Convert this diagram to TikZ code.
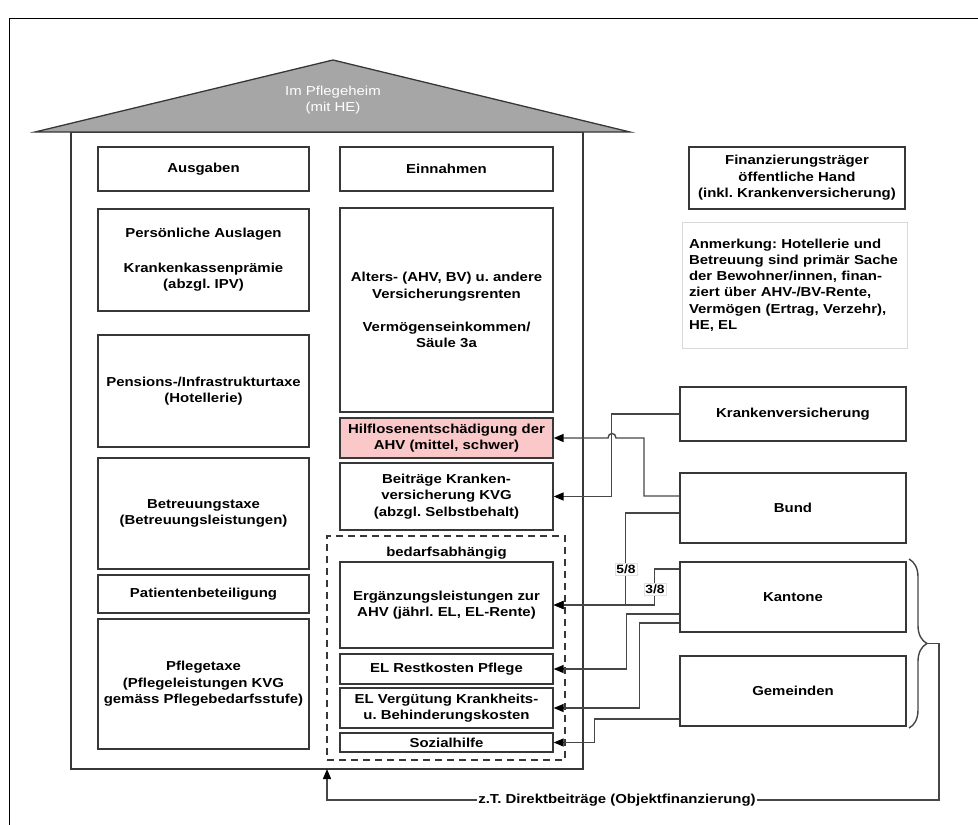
\documentclass[tikz,border=0pt]{standalone}
\usepackage{fontspec}
\setmainfont{Liberation Sans}[FakeStretch=1.15]
\frenchspacing
\usetikzlibrary{arrows.meta, positioning, calc, decorations.pathreplacing}
\definecolor{rahmengrau}{RGB}{55,55,55}
\definecolor{liniengrau}{RGB}{70,70,70}
\definecolor{dachgrau}{RGB}{166,166,166}
\definecolor{hilfrosa}{RGB}{250,200,200}

\begin{document}
\begin{tikzpicture}[x=1pt, y=-1pt,
  box/.style={draw=rahmengrau, fill=white, line width=1.3pt, align=center,
              font=\fontsize{13}{16.5}\selectfont\bfseries, inner sep=2pt},
  links/.style={box, minimum width=211pt},
  mitte/.style={box, minimum width=213pt},
  rechts/.style={box, minimum width=226pt},
  note/.style={draw=black!15, line width=0.8pt, align=left, text width=211pt,
               minimum width=225pt, minimum height=126pt, inner sep=7pt,
               font=\fontsize{13}{16.2}\selectfont\bfseries},
  frac/.style={fill=white, draw=black!12, inner sep=1.5pt,
               font=\fontsize{12}{14}\selectfont\bfseries},
  arr/.style={-{Triangle[length=10pt,width=8pt,color=black]}, line width=1.4pt, liniengrau},
  lin/.style={line width=1.4pt, liniengrau}
]
  \useasboundingbox (0,0) rectangle (978,825);

  % frame of the screenshot
  \draw[line width=1pt] (9,825) -- (9,18) -- (978,18);

  % house
  \draw[line width=1.3pt, rahmengrau] (71,132) rectangle (583,769);
  \draw[line width=1.3pt, rahmengrau, fill=dachgrau] (35,132) -- (333,60) -- (630,132) -- cycle;
  \node[text=white, align=center, font=\fontsize{13}{16.5}\selectfont] (dach) at (333,100)
    {Im Pflegeheim\\(mit HE)};
  \coordinate (hausfuss) at (327,769);

  % Ausgaben
  \node[links, minimum height=44pt] (aus) at (203.5,169) {Ausgaben};
  \node[links, minimum height=102pt] (pers) at (203.5,260)
    {Persönliche Auslagen\\[18pt]Krankenkassenprämie\\(abzgl. IPV)};
  \node[links, minimum height=112pt] (pens) at (203.5,391)
    {Pensions-/Infrastrukturtaxe\\(Hotellerie)};
  \node[links, minimum height=111pt] (betr) at (203.5,513.5)
    {Betreuungstaxe\\(Betreuungsleistungen)};
  \node[links, minimum height=38pt] (pat) at (203.5,594) {Patientenbeteiligung};
  \node[links, minimum height=130pt] (pfl) at (203.5,684)
    {Pflegetaxe\\(Pflegeleistungen KVG\\gemäss Pflegebedarfsstufe)};

  % Einnahmen
  \node[draw=rahmengrau, dashed, dash pattern=on 7pt off 5pt, line width=1.2pt,
        minimum width=238pt, minimum height=224pt] (bed) at (446,648) {};
  \node[mitte, minimum height=44pt] (ein) at (446.5,169) {Einnahmen};
  \node[mitte, minimum height=204pt] (alt) at (446.5,310)
    {Alters- (AHV, BV) u. andere\\Versicherungsrenten\\[16.5pt]Vermögenseinkommen/\\Säule 3a};
  \node[mitte, minimum height=40pt, fill=hilfrosa] (hilf) at (446.5,438)
    {Hilflosenentschädigung der\\AHV (mittel, schwer)};
  \node[mitte, minimum height=67pt] (kvg) at (446.5,496.5)
    {Beiträge Kranken-\\versicherung KVG\\(abzgl. Selbstbehalt)};
  \node[font=\fontsize{13}{16.5}\selectfont\bfseries] (bedtext) at (446.5,553) {bedarfsabhängig};
  \node[mitte, minimum height=86pt] (erg) at (446.5,605)
    {Ergänzungsleistungen zur\\AHV (jährl. EL, EL-Rente)};
  \node[mitte, minimum height=30pt] (rest) at (446.5,669) {EL Restkosten Pflege};
  \node[mitte, minimum height=40pt] (verg) at (446.5,708)
    {EL Vergütung Krankheits-\\u. Behinderungskosten};
  \node[mitte, minimum height=19pt, inner sep=1pt] (soz) at (446.5,742.5) {Sozialhilfe};

  % Finanzierungstraeger
  \node[box, minimum width=216pt, minimum height=62pt] (fin) at (797,178)
    {Finanzierungsträger\\öffentliche Hand\\(inkl. Krankenversicherung)};
  \node[note] (anm) at (794.5,285)
    {Anmerkung: Hotellerie und\\Betreuung sind primär Sache\\der Bewohner/innen, finan-\\ziert über AHV-/BV-Rente,\\Vermögen (Ertrag, Verzehr),\\HE, EL};
  \node[rechts, minimum height=54pt] (kv) at (793,414) {Krankenversicherung};
  \node[rechts, minimum height=70pt] (bund) at (793,508) {Bund};
  \node[rechts, minimum height=70pt] (kant) at (793,597) {Kantone};
  \node[rechts, minimum height=70pt] (gem) at (793,691) {Gemeinden};

  % flows
  \draw[arr] (kv.west) -- ++(-68,0) |- (kvg.east);
  \draw[arr] (bund.west |- 0,496) -| (644,438) -- (616,438)
    .. controls (616,432) and (608,432) .. (608,438) -- (hilf.east);
  \draw[arr] (bund.west |- 0,513) -- ++(-54,0) |- (erg.east);
  \draw[arr] (kant.west |- 0,569) -- ++(-25,0) |- (erg.east);
  \draw[arr] (kant.west |- 0,614) -- ++(-53,0) |- (rest.east);
  \draw[arr] (kant.west |- 0,623) -- ++(-40,0) |- (verg.east);
  \draw[arr] (gem.west |- 0,719) -- ++(-85,0) |- (soz.east);
  \node[frac] (fuenf) at (626,569) {5/8};
  \node[frac] (drei) at (655,589) {3/8};

  % direct contributions
  \coordinate (brtop) at (909,559);
  \coordinate (brbot) at (909,728);
  \coordinate (brtip) at (927,643.5);
  \draw[lin, decorate, decoration={brace, amplitude=18pt}] (brtop) -- (brbot);
  \node[fill=white, inner sep=1pt, font=\fontsize{13}{16.5}\selectfont\bfseries] (dir) at (617,800)
    {z.T. Direktbeiträge (Objektfinanzierung)};
  \draw[lin] (brtip) -- ++(12,0) |- (dir.east);
  \draw[arr] (dir.west) -| (hausfuss);
\end{tikzpicture}
\end{document}
